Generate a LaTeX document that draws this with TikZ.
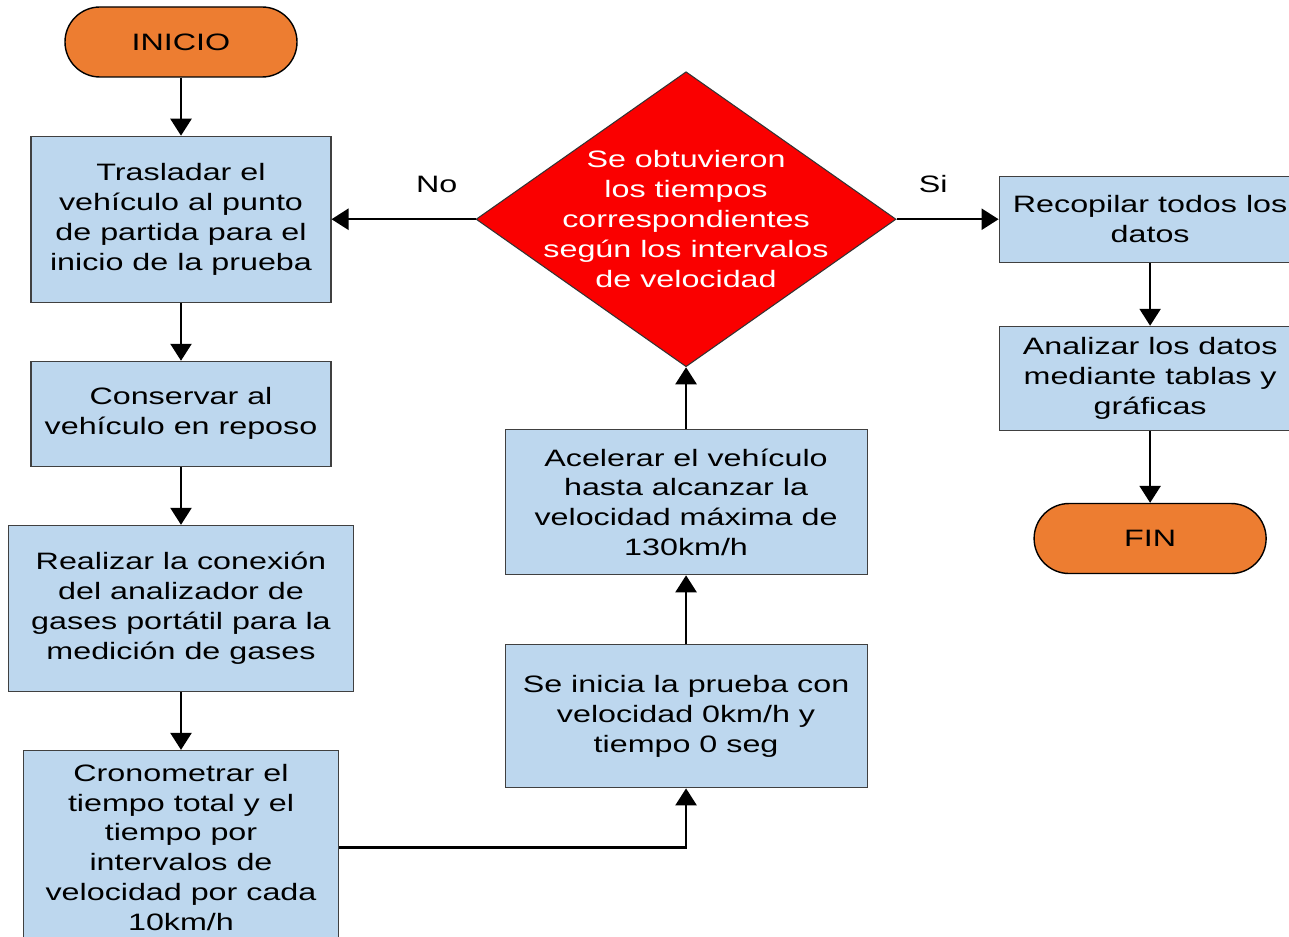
\documentclass[tikz,border=0pt]{standalone}
\usepackage{fontspec}
\setmainfont{Liberation Sans}[FakeStretch=1.36]
\usepackage{tikz}
\definecolor{azulcaja}{RGB}{189,215,238}
\definecolor{naranja}{RGB}{237,125,49}
\definecolor{rojo}{RGB}{250,0,0}
\tikzstyle{terminal}=[rectangle,rounded corners=0.7cm,draw=black,line width=0.8pt,
fill=naranja,minimum width=4.64cm,minimum height=1.4cm,inner sep=0pt]
\tikzstyle{paso}=[rectangle,draw=black!75,line width=0.6pt,fill=azulcaja,
inner sep=0pt,align=center]
\tikzstyle{decision}=[diamond,draw=black!80,line width=0.6pt,fill=rojo,
minimum width=8.4cm,minimum height=5.9cm,inner sep=0pt]
\tikzstyle{flecha}=[-{Triangle[length=3.4mm,width=4.2mm]},line width=1.4pt]
\usetikzlibrary{arrows.meta,positioning,shapes.geometric}

\begin{document}
\begin{tikzpicture}[font=\fontsize{13.5}{17}\selectfont]
            \useasboundingbox (0,0) rectangle (25.78,-18.74);

            % LEFT COLUMN

            \node[terminal] (s1) at (3.62,-0.84) {INICIO};
            \node[paso,below=1.16cm of s1,minimum width=6cm,minimum height=3.32cm] (b1)
                {Trasladar el\\vehículo al punto\\de partida para el\\inicio de la prueba};
            \node[paso,below=1.16cm of b1,minimum width=6cm,minimum height=2.1cm] (b2)
                {Conservar al\\vehículo en reposo};
            \node[paso,below=1.16cm of b2,minimum width=6.9cm,minimum height=3.32cm] (b3)
                {Realizar la conexión\\del analizador de\\gases portátil para la\\medición de gases};
            \node[paso,below=1.16cm of b3,minimum width=6.3cm,minimum height=3.88cm] (b4)
                {Cronometrar el\\tiempo total y el\\tiempo por\\intervalos de\\velocidad por cada\\10km/h};

            \path[flecha] (s1) edge node {} (b1);
            \path[flecha] (b1) edge node {} (b2);
            \path[flecha] (b2) edge node {} (b3);
            \path[flecha] (b3) edge node {} (b4);

            % CENTER COLUMN

            \node[decision,right=2.88cm of b1] (d1) {};
            \node[text=white,align=center] (d1t) at (d1)
                {Se obtuvieron\\los tiempos\\correspondientes\\según los intervalos\\de velocidad};
            \node[paso,below=1.24cm of d1,minimum width=7.24cm,minimum height=2.9cm] (b6)
                {Acelerar el vehículo\\hasta alcanzar la\\velocidad máxima de\\130km/h};
            \node[paso,below=1.38cm of b6,minimum width=7.24cm,minimum height=2.86cm] (b5)
                {Se inicia la prueba con\\velocidad 0km/h y\\tiempo 0 seg};

            \draw[flecha] (b4.east) -| (b5.south);
            \path[flecha] (b5) edge node {} (b6);
            \path[flecha] (b6) edge node {} (d1);
            \path[flecha] (d1) edge node[pos=0.27,yshift=0.7cm] {No} (b1);

            % RIGHT COLUMN

            \node[paso,right=2.04cm of d1,minimum width=6.04cm,minimum height=1.72cm] (b7)
                {Recopilar todos los\\datos};
            \node[paso,below=1.26cm of b7,minimum width=6.04cm,minimum height=2.08cm] (b8)
                {Analizar los datos\\mediante tablas y\\gráficas};
            \node[terminal,below=1.44cm of b8] (s2) {FIN};

            \path[flecha] (d1) edge node[pos=0.36,yshift=0.7cm] {Si} (b7);
            \path[flecha] (b7) edge node {} (b8);
            \path[flecha] (b8) edge node {} (s2);

        \end{tikzpicture}
\end{document}
